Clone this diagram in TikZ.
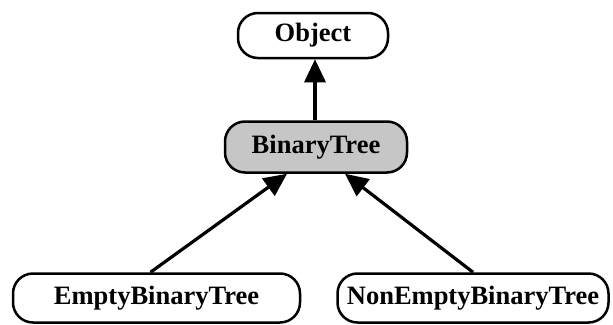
\documentclass[tikz,border=0pt]{standalone}
\usepackage{fontspec}
\setmainfont{Liberation Serif}
\usetikzlibrary{arrows.meta}
\begin{document}
\begin{tikzpicture}[x=1pt,y=-1pt,
  cls/.style={draw=black, line width=2.5pt, rounded corners=20pt, inner sep=0pt,
    font=\fontsize{26.5}{30}\selectfont\bfseries, text=black},
  inh/.style={line width=3.2pt, -{Triangle[length=23pt,width=21pt]}}]
\useasboundingbox (0,0) rectangle (613,324);
\node[cls, minimum width=150pt, minimum height=45pt] (obj) at (313,35.5) {Object};
\node[cls, fill=gray!45, minimum width=182pt, minimum height=51pt] (bt) at (316,147) {BinaryTree};
\node[cls, minimum width=287pt, minimum height=49pt] (e) at (156.5,298) {EmptyBinaryTree};
\node[cls, minimum width=271pt, minimum height=49pt] (ne) at (473,298) {NonEmptyBinaryTree};
\draw[inh] ([xshift=-1pt]bt.north) -- ([xshift=-1pt]bt.north |- obj.south);
\draw[inh] ([xshift=-6pt]e.north) -- ([xshift=-29pt]bt.south);
\draw[inh] (ne.north) -- ([xshift=29pt]bt.south);
\end{tikzpicture}
\end{document}
